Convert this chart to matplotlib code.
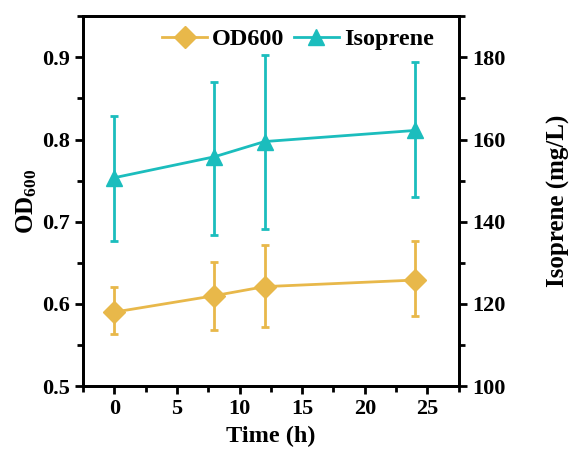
import matplotlib
matplotlib.use("Agg")
import matplotlib.pyplot as plt
from matplotlib.ticker import MultipleLocator
from matplotlib.lines import Line2D

plt.rcParams['font.family'] = ['Liberation Serif', 'DejaVu Serif']
plt.rcParams['font.weight'] = 'bold'
plt.rcParams['mathtext.fontset'] = 'custom'
plt.rcParams['mathtext.rm'] = 'Liberation Serif:bold'
plt.rcParams['mathtext.it'] = 'Liberation Serif:bold'
plt.rcParams['mathtext.bf'] = 'Liberation Serif:bold'

time_h = [0, 8, 12, 24]
od600 = [0.590, 0.610, 0.621, 0.629]
od600_err_low = [0.027, 0.042, 0.049, 0.044]
od600_err_high = [0.030, 0.041, 0.051, 0.047]
isoprene = [150.7, 155.8, 159.5, 162.2]
isoprene_err_low = [15.3, 19.0, 21.2, 16.1]
isoprene_err_high = [15.1, 18.3, 21.0, 16.6]

gold = '#E8B84A'
cyan = '#1BBDBD'

fig = plt.figure(figsize=(5.72, 4.5), dpi=100)
ax = fig.add_axes([0.145, 0.142, 0.657, 0.822])
ax2 = ax.twinx()

ax.errorbar(time_h, od600, yerr=[od600_err_low, od600_err_high], color=gold,
            marker='D', markersize=11, linewidth=2, elinewidth=2, capsize=3,
            capthick=2)
ax2.errorbar(time_h, isoprene, yerr=[isoprene_err_low, isoprene_err_high], color=cyan,
             marker='^', markersize=12, linewidth=2, elinewidth=2, capsize=3,
             capthick=2)

ax.set_xlim(-2.5, 27.5)
ax.set_ylim(0.5, 0.95)
ax2.set_ylim(100, 190)
ax.xaxis.set_major_locator(MultipleLocator(5))
ax.xaxis.set_minor_locator(MultipleLocator(2.5))
ax.yaxis.set_minor_locator(MultipleLocator(0.05))
ax2.yaxis.set_minor_locator(MultipleLocator(10))
ax.set_yticks([0.5, 0.6, 0.7, 0.8, 0.9])
ax2.set_yticks([100, 120, 140, 160, 180])

for a in (ax, ax2):
    for s in a.spines.values():
        s.set_linewidth(2)
    a.tick_params(which='major', length=6, width=2, labelsize=16, direction='out')
    a.tick_params(which='minor', length=4, width=2, direction='out')

ax.set_xlabel('Time (h)', fontsize=17.5, fontweight='bold', labelpad=5)
ax.set_ylabel('OD$_{600}$', fontsize=18, fontweight='bold', labelpad=2)
ax2.set_ylabel('Isoprene (mg/L)', fontsize=18, fontweight='bold', labelpad=30)

h1 = Line2D([], [], color=gold, marker='D', markersize=11, linewidth=2)
h2 = Line2D([], [], color=cyan, marker='^', markersize=12, linewidth=2)
ax.legend([h1, h2], ['OD600', 'Isoprene'], loc='upper center', ncol=2, frameon=False,
          fontsize=17.5, handlelength=1.85, columnspacing=0.4, handletextpad=0.2,
          borderaxespad=0.1, bbox_to_anchor=(0.572, 1.0))

fig.savefig('out.png', dpi=100)
